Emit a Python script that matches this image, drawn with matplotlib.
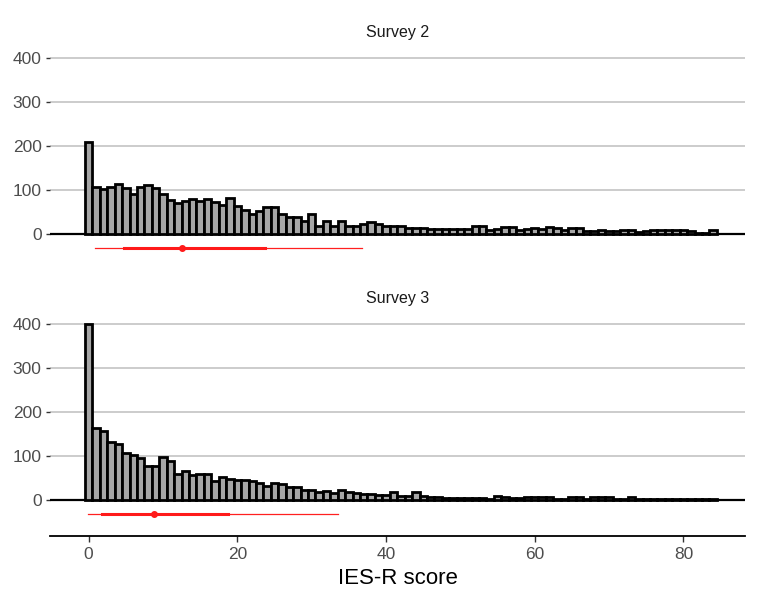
import numpy as np
import matplotlib
matplotlib.use("Agg")
from matplotlib import pyplot as plt

plt.rcParams['font.family'] = ['Liberation Sans', 'DejaVu Sans']

# IES-R score bins (width 1)
scores = np.arange(0, 85)

survey2 = [210, 107, 103, 107, 114, 105, 91, 107, 111, 105,
           90, 78, 70, 75, 79, 75, 79, 72, 65, 82,
           63, 55, 46, 51, 61, 61, 45, 38, 38, 30,
           45, 19, 30, 19, 30, 17, 17, 22, 27, 22,
           17, 17, 17, 14, 14, 13, 11, 11, 11, 11,
           11, 11, 19, 19, 9, 11, 15, 15, 8, 12,
           14, 12, 15, 14, 8, 14, 14, 6, 7, 9,
           7, 7, 8, 8, 5, 7, 8, 8, 8, 8,
           8, 6, 3, 3, 9]

survey3 = [400, 164, 157, 131, 128, 106, 102, 96, 77, 77,
           98, 89, 59, 66, 56, 59, 59, 43, 53, 48,
           46, 45, 42, 38, 31, 39, 36, 29, 30, 23,
           23, 19, 21, 15, 22, 17, 15, 14, 13, 11,
           11, 19, 8, 10, 17, 8, 7, 6, 5, 4,
           5, 4, 4, 4, 3, 10, 6, 4, 4, 6,
           6, 6, 6, 3, 3, 7, 7, 3, 7, 7,
           7, 3, 3, 7, 3, 2, 2, 2, 2, 2,
           2, 2, 2, 2, 2]

# summary line: low, q1, median, q3, high
summary2 = [0.8, 4.8, 12.6, 23.7, 36.7]
summary3 = [-0.1, 1.8, 8.8, 18.8, 33.6]

titles = ['Survey 2', 'Survey 3']
yticks = [0, 100, 200, 300, 400]
xticks = [0, 20, 40, 60, 80]

fig = plt.figure(figsize=(7.58, 6.06), dpi=100)
ax_top = fig.add_axes([0.066, 0.5545, 0.917, 0.368])
ax_bot = fig.add_axes([0.066, 0.1155, 0.917, 0.368])

for ax, counts, summ, title in zip([ax_top, ax_bot], [survey2, survey3],
                                    [summary2, summary3], titles):
    ax.set_xlim(-5.2, 88.3)
    ax.set_ylim(-82, 425)
    ax.set_yticks(yticks)
    ax.grid(axis='y', color='#bebebe', lw=1.1, zorder=0)
    ax.axhline(0, color='black', lw=1.6, zorder=2)
    ax.bar(scores, counts, width=1.0, color='#a6a6a6', edgecolor='black',
           lw=2.0, zorder=3)
    yl = -31
    ax.plot([summ[0], summ[4]], [yl, yl], color='#ff2020', lw=0.9, zorder=4)
    ax.plot([summ[1], summ[3]], [yl, yl], color='#ff1a1a', lw=2.2, zorder=4)
    ax.plot(summ[2], yl, 'o', color='#ff1a1a', ms=4, zorder=5)
    for s in ['top', 'right', 'left']:
        ax.spines[s].set_visible(False)
    ax.tick_params(axis='y', length=3, width=1, color='#333333',
                   labelsize=12.5, labelcolor='#4d4d4d', pad=3)
    ax.text(0.5, 1.03, title, transform=ax.transAxes, ha='center',
            va='bottom', fontsize=11.5, color='#1a1a1a')

ax_top.spines['bottom'].set_visible(False)
ax_top.set_xticks([])

ax_bot.spines['bottom'].set_linewidth(1.3)
ax_bot.set_xticks(xticks)
ax_bot.tick_params(axis='x', length=4, width=1, color='#333333',
                   labelsize=12.5, labelcolor='#4d4d4d', pad=4)
ax_bot.set_xlabel('IES-R score', fontsize=16, color='black', labelpad=4)

fig.savefig('out.png', dpi=100)
